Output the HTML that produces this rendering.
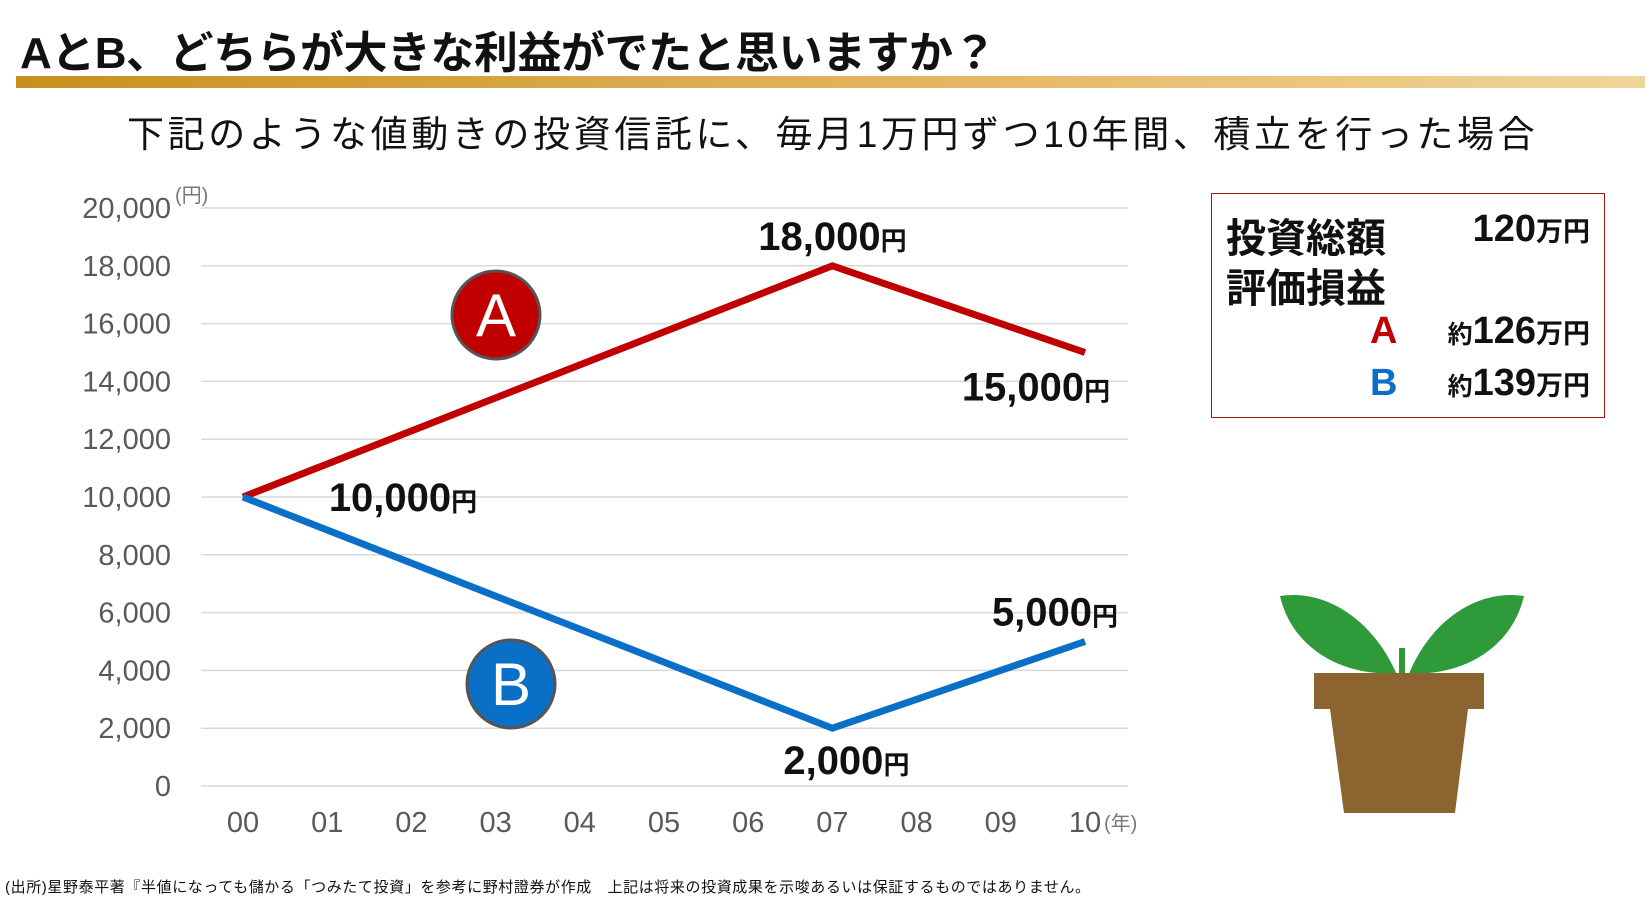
<!DOCTYPE html>
<html><head><meta charset="utf-8"><style>
body{margin:0;width:1650px;height:905px;background:#fff;overflow:hidden;font-family:"Liberation Sans","Noto Sans CJK JP",sans-serif;position:relative}
.t{position:absolute;white-space:nowrap}
</style></head><body>
<div class="t" style="left:20px;top:17px;font-size:44px;font-weight:bold;color:#111;letter-spacing:-0.5px">AとB、どちらが大きな利益がでたと思いますか？</div>
<div style="position:absolute;left:16px;top:76px;width:1629px;height:12px;background:linear-gradient(90deg,#c8901e,#e6b866 60%,#f0d59a)"></div>
<div class="t" style="left:127px;top:104px;font-size:37px;color:#111;letter-spacing:3.6px">下記のような値動きの投資信託に、毎月1万円ずつ10年間、積立を行った場合</div>
<svg id="chart" width="1650" height="905" style="position:absolute;left:0;top:0"></svg>
<div style="position:absolute;left:1211px;top:193px;width:392px;height:223px;border:1.5px solid #a01818;font-weight:bold;color:#111">
 <div class="t" style="left:14px;top:12px;font-size:40px">投資総額</div>
 <div class="t" style="right:14px;top:14px;font-size:38px">120<span style="font-size:27px">万円</span></div>
 <div class="t" style="left:14px;top:62px;font-size:40px">評価損益</div>
 <div class="t" style="left:158px;top:116px;font-size:38px;color:#c00000">A</div>
 <div class="t" style="right:14px;top:116px;font-size:38px"><span style="font-size:25px">約</span>126<span style="font-size:27px">万円</span></div>
 <div class="t" style="left:158px;top:168px;font-size:38px;color:#0a6fc6">B</div>
 <div class="t" style="right:14px;top:168px;font-size:38px"><span style="font-size:25px">約</span>139<span style="font-size:27px">万円</span></div>
</div>
<svg width="260" height="260" style="position:absolute;left:1272px;top:568px">
 <path d="M130 120 C110 60 60 20 8 28 C20 80 70 110 130 105Z" fill="#2e9a3a"/>
 <path d="M132 120 C150 60 200 20 252 28 C240 80 190 110 132 105Z" fill="#2e9a3a"/>
 <rect x="127" y="80" width="6" height="100" fill="#2e9a3a"/>
 <rect x="42" y="105" width="170" height="36" fill="#8b6430"/>
 <path d="M58 141 L196 141 L183 245 L72 245Z" fill="#8b6430"/>
</svg>
<div class="t" style="left:5px;top:876px;font-size:15px;color:#111;letter-spacing:0.6px">(出所)星野泰平著『半値になっても儲かる「つみたて投資」を参考に野村證券が作成　上記は将来の投資成果を示唆あるいは保証するものではありません。</div>
<script>
const years=["00","01","02","03","04","05","06","07","08","09","10"];
const yTicks=[0,2000,4000,6000,8000,10000,12000,14000,16000,18000,20000];
const seriesAx=[0,7,10];
const seriesA=[10000,18000,15000];
const seriesBx=[0,7,10];
const seriesB=[10000,2000,5000];
const labelsA=["10,000","18,000","15,000"];
const labelsB=["","2,000","5,000"];
const NS="http://www.w3.org/2000/svg";
const svg=document.getElementById('chart');
const X=i=>243+i*84.2;
const Y=v=>786-v/20000*578;
function mk(t,a){const e=document.createElementNS(NS,t);for(const k in a)e.setAttribute(k,a[k]);svg.appendChild(e);return e;}
yTicks.forEach(v=>{
 const l=mk('line',{x1:201,x2:1128,y1:Y(v),y2:Y(v),stroke:'#d9d9d9','stroke-width':1.5});
 
 
 const t=mk('text',{x:171,y:Y(v)+10,'text-anchor':'end','font-size':29,fill:'#595959'});
 t.textContent=v.toLocaleString('en-US');
 
 
});
const yu=mk('text',{x:175,y:Y(20000)-6,'font-size':20,fill:'#777'});yu.textContent='(円)';


years.forEach((y,i)=>{
 const t=mk('text',{x:X(i),y:832,'text-anchor':'middle','font-size':29,fill:'#595959'});
 t.textContent=y;
 
 
});
const xu=mk('text',{x:1104,y:830,'font-size':20,fill:'#777'});xu.textContent='(年)';


function line(xs,vs,c,n){
 const p=mk('polyline',{points:xs.map((x,i)=>X(x)+','+Y(vs[i])).join(' '),fill:'none',stroke:c,'stroke-width':7,'stroke-linejoin':'miter'});
 
 
}
line(seriesAx,seriesA,'#c00000','line-a');
line(seriesBx,seriesB,'#0a6fc6','line-b');
function lab(x,y,s,n){
 if(!s)return;
 const t=mk('text',{x:x,y:y,'text-anchor':'middle','font-size':40,'font-weight':'bold',fill:'#111'});
 t.innerHTML=s+'<tspan font-size="26">円</tspan>';
 
 
}
lab(X(seriesAx[0])+160,Y(seriesA[0])+14,labelsA[0],'label-start');
lab(X(seriesAx[1])+0,Y(seriesA[1])-16,labelsA[1],'label-a-peak');
lab(X(seriesAx[2])-49,Y(seriesA[2])+48,labelsA[2],'label-a-end');
lab(X(seriesBx[1])+14,Y(seriesB[1])+46,labelsB[1],'label-b-low');
lab(X(seriesBx[2])-30,Y(seriesB[2])-16,labelsB[2],'label-b-end');
function badge(cx,cy,c,s,n){
 const g=mk('circle',{cx:cx,cy:cy,r:44,fill:c,stroke:'#555','stroke-width':3});
 
 
 const t=mk('text',{x:cx,y:cy+21,'text-anchor':'middle','font-size':60,fill:'#fff'});t.textContent=s;
}
badge(496,315,'#c00000','A','badge-a');
badge(511,684,'#0a6fc6','B','badge-b');
</script>
</body></html>
